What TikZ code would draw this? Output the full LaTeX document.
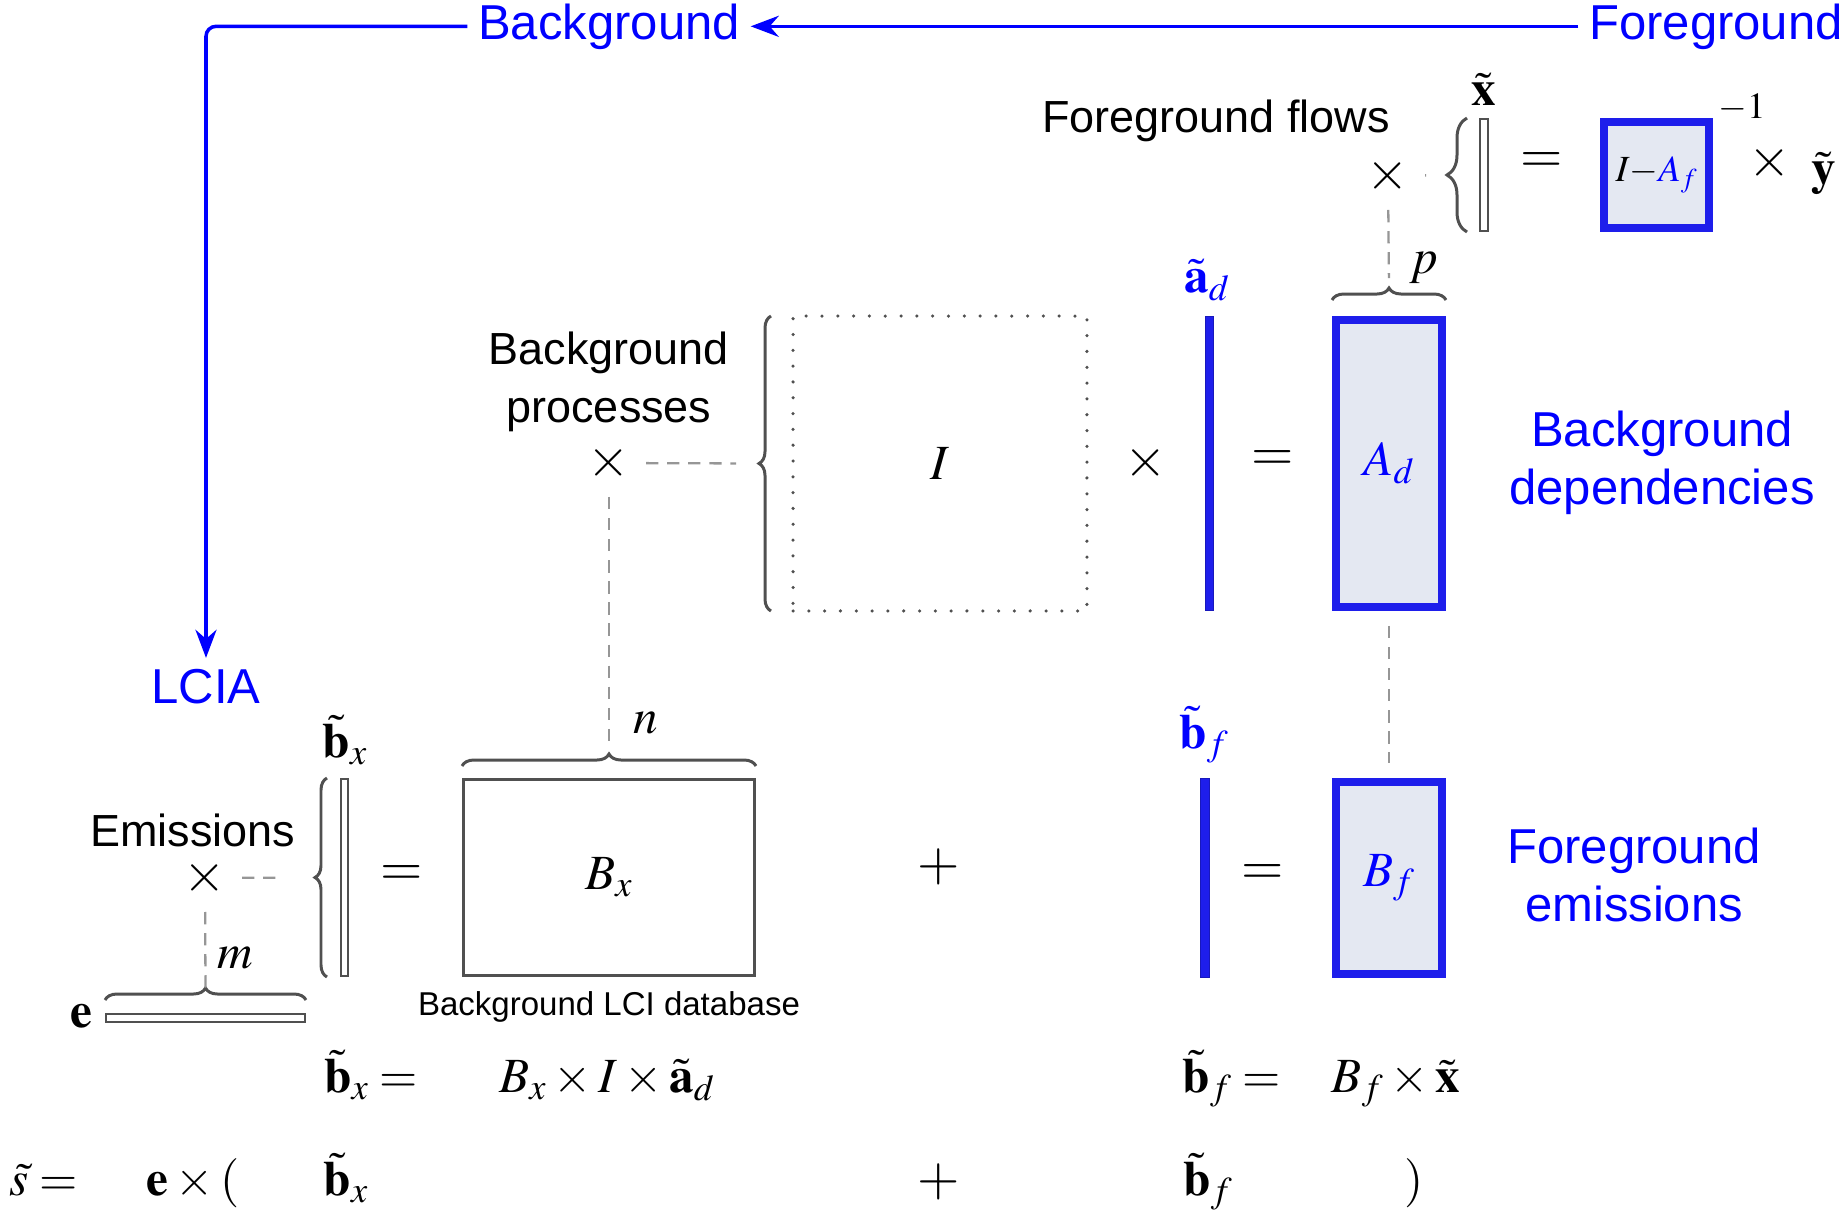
\documentclass[tikz,border=0pt]{standalone}
\usepackage{mathptmx}
\usepackage[no-math]{fontspec}
\setsansfont{Liberation Sans}
\usetikzlibrary{arrows.meta,decorations.pathreplacing}

\definecolor{boxfill}{RGB}{228,232,242}
\definecolor{boxblue}{RGB}{30,30,235}
\definecolor{matgray}{RGB}{80,80,80}
\definecolor{linkgray}{RGB}{150,150,150}

\newcommand{\bluesize}{\sffamily\fontsize{27.9}{33}\selectfont}
\newcommand{\blacksize}{\sffamily\fontsize{25.6}{33}\selectfont}
\newcommand{\dbsize}{\sffamily\fontsize{18.8}{22}\selectfont}
\newcommand{\mathsize}{\fontsize{28}{33}\selectfont}
\newcommand{\opsize}{\fontsize{31}{36}\selectfont}
\newcommand{\boxsize}{\fontsize{21}{24}\selectfont}

\begin{document}
\begin{tikzpicture}[x=0.02cm,y=-0.02cm,
  bluetxt/.style={font=\bluesize,text=blue,inner sep=6pt,align=center},
  txtlabel/.style={font=\blacksize,align=center},
  mathtxt/.style={font=\mathsize},
  optxt/.style={font=\opsize},
  crossmark/.style={font=\opsize,inner sep=0.31cm},
  dotbox/.style={draw=matgray,line width=2pt,dash pattern=on 0pt off 9pt,line cap=round,inner sep=0pt,font=\mathsize},
  matbox/.style={draw=matgray,line width=2pt,inner sep=0pt,font=\mathsize},
  vecbox/.style={draw=matgray,line width=1.4pt,inner sep=0pt},
  bluebox/.style={draw=boxblue,line width=4.5pt,fill=boxfill,inner sep=0pt,text=blue,font=\mathsize},
  bluebar/.style={draw=boxblue!80!black,fill=boxblue,line width=0.8pt,inner sep=0pt},
  bracegray/.style={draw=matgray,line width=1.7pt,decorate,decoration={brace,amplitude=0.24cm}},
  dashlink/.style={draw=linkgray,line width=1.3pt,dash pattern=on 7pt off 5pt},
  flowarrow/.style={draw=blue,line width=2pt,-{Stealth[length=16pt,width=12pt]}}]
  \useasboundingbox (0,0) rectangle (1846,1221);

  \node[bluetxt,anchor=base] (fg) at (1716,39) {Foreground};
  \node[bluetxt,anchor=base] (bg) at (609,39) {Background};
  \node[bluetxt,anchor=base] (lcia) at (206,703) {LCIA};
  \draw[flowarrow] (fg) -- (bg);
  \draw[flowarrow,rounded corners=0.2cm] (bg) -| (lcia);

  \node[dotbox,minimum width=5.88cm,minimum height=5.9cm] (I) at (940,463.5) {$I$};
  \node[bluebar,minimum width=0.15cm,minimum height=5.88cm] (ad) at (1209.5,463.5) {};
  \node[bluebox,minimum width=2.12cm,minimum height=5.74cm] (Ad) at (1389,463.5) {$A_d$};
  \node[bluebox,minimum width=2.12cm,minimum height=3.84cm] (Bf) at (1389,878) {$B_f$};
  \node[bluebar,minimum width=0.17cm,minimum height=3.98cm] (bf) at (1205,878) {};
  \node[matbox,minimum width=5.82cm,minimum height=3.92cm] (Bx) at (609,877.5) {$B_x$};
  \node[vecbox,minimum width=0.14cm,minimum height=3.94cm] (bx) at (344.5,877.5) {};
  \node[vecbox,minimum width=3.98cm,minimum height=0.16cm] (e) at (205.5,1018) {};
  \node[vecbox,minimum width=0.16cm,minimum height=2.24cm] (x) at (1484,175) {};
  \node[bluebox,minimum width=2.1cm,minimum height=2.12cm,font=\boxsize,text=black] (IAf) at (1656.5,175) {$I{-}\textcolor{blue}{A_f}$};

  \draw[bracegray] (771,611) -- (771,316);
  \draw[bracegray] (462,766) -- (756,766);
  \draw[bracegray] (327,977) -- (327,778);
  \draw[bracegray] (105,1000) -- (306,1000);
  \draw[bracegray] (1332,300) -- (1446,300);
  \draw[bracegray,decoration={amplitude=0.4cm}] (1467,232) -- (1467,118);
  \coordinate (Itip) at (759,463.5);
  \coordinate (Bxtip) at (609,754);
  \coordinate (bxtip) at (315,877.5);
  \coordinate (etip) at (205.5,988);
  \coordinate (Adtip) at (1389,288);
  \coordinate (xtip) at (1447,175);

  \node[crossmark] (bpx) at (609,463) {$\times$};
  \node[crossmark] (emx) at (205,878) {$\times$};
  \node[crossmark] (ffx) at (1388,176) {$\times$};
  \node[txtlabel,anchor=base] (bpl) at (609,422) {Background\\processes};
  \node[txtlabel,anchor=base] (eml) at (193,846) {Emissions};
  \node[txtlabel,anchor=base] (ffl) at (1216,132) {Foreground flows};
  \node[font=\dbsize,anchor=base] (dbl) at (609,1015) {Background LCI database};
  \node[bluetxt,anchor=base] (bdl) at (1662,504) {Background\\dependencies};
  \node[bluetxt,anchor=base] (fel) at (1634,921) {Foreground\\emissions};

  \draw[dashlink,shorten >=0.46cm] (bpx) -- (Itip);
  \draw[dashlink,shorten >=0.16cm] (bpx) -- (Bxtip);
  \draw[dashlink,shorten >=0.64cm] (emx) -- (bxtip);
  \draw[dashlink] (emx) -- (etip);
  \draw[dashlink,shorten >=0.2cm] (ffx) -- (Adtip);
  \draw[dashlink,shorten >=0.42cm] (ffx) -- (xtip);
  \draw[dashlink,shorten <=0.3cm,shorten >=0.3cm] (Ad) -- (Bf);

  \node[mathtxt,anchor=base] (xl) at (1484,105) {$\tilde{\mathbf x}$};
  \node[optxt] (eqx) at (1542,163) {$=$};
  \node[font=\boxsize,anchor=base] (inv) at (1742,118) {$-1$};
  \node[optxt] (tx) at (1770,163) {$\times$};
  \node[mathtxt,anchor=base] (yl) at (1824,184) {$\tilde{\mathbf y}$};
  \node[mathtxt,anchor=base,text=blue] (adl) at (1207,292) {$\tilde{\mathbf a}_d$};
  \node[mathtxt,anchor=base] (pl) at (1424,273) {$p$};
  \node[optxt] (tI) at (1146,463) {$\times$};
  \node[optxt] (eqA) at (1273,461) {$=$};
  \node[mathtxt,anchor=base] (nl) at (646,733) {$n$};
  \node[mathtxt,anchor=base] (bxl) at (345,757) {$\tilde{\mathbf b}_x$};
  \node[optxt] (eqB) at (402,876) {$=$};
  \node[mathtxt,anchor=base] (ml) at (235,968) {$m$};
  \node[mathtxt,anchor=base] (el) at (81,1027) {$\mathbf e$};
  \node[optxt] (plus) at (939,867) {$+$};
  \node[mathtxt,anchor=base,text=blue] (bfl) at (1204,748) {$\tilde{\mathbf b}_f$};
  \node[optxt] (eqF) at (1263,875) {$=$};

  \node[mathtxt,anchor=base] (r1a) at (371,1092) {$\tilde{\mathbf b}_x =$};
  \node[mathtxt,anchor=base] (r1b) at (607,1092) {$B_x \times I \times \tilde{\mathbf a}_d$};
  \node[mathtxt,anchor=base] (r1c) at (1232,1092) {$\tilde{\mathbf b}_f =$};
  \node[mathtxt,anchor=base] (r1d) at (1396,1092) {$B_f \times \tilde{\mathbf x}$};
  \node[mathtxt,anchor=base] (r2a) at (44,1195) {$\tilde s =$};
  \node[mathtxt,anchor=base] (r2b) at (193,1195) {$\mathbf e \times ($};
  \node[mathtxt,anchor=base] (r2c) at (346,1195) {$\tilde{\mathbf b}_x$};
  \node[optxt,anchor=base] (r2d) at (939,1195) {$+$};
  \node[mathtxt,anchor=base] (r2e) at (1208,1195) {$\tilde{\mathbf b}_f$};
  \node[mathtxt,anchor=base] (r2f) at (1414,1195) {$)$};
\end{tikzpicture}
\end{document}
